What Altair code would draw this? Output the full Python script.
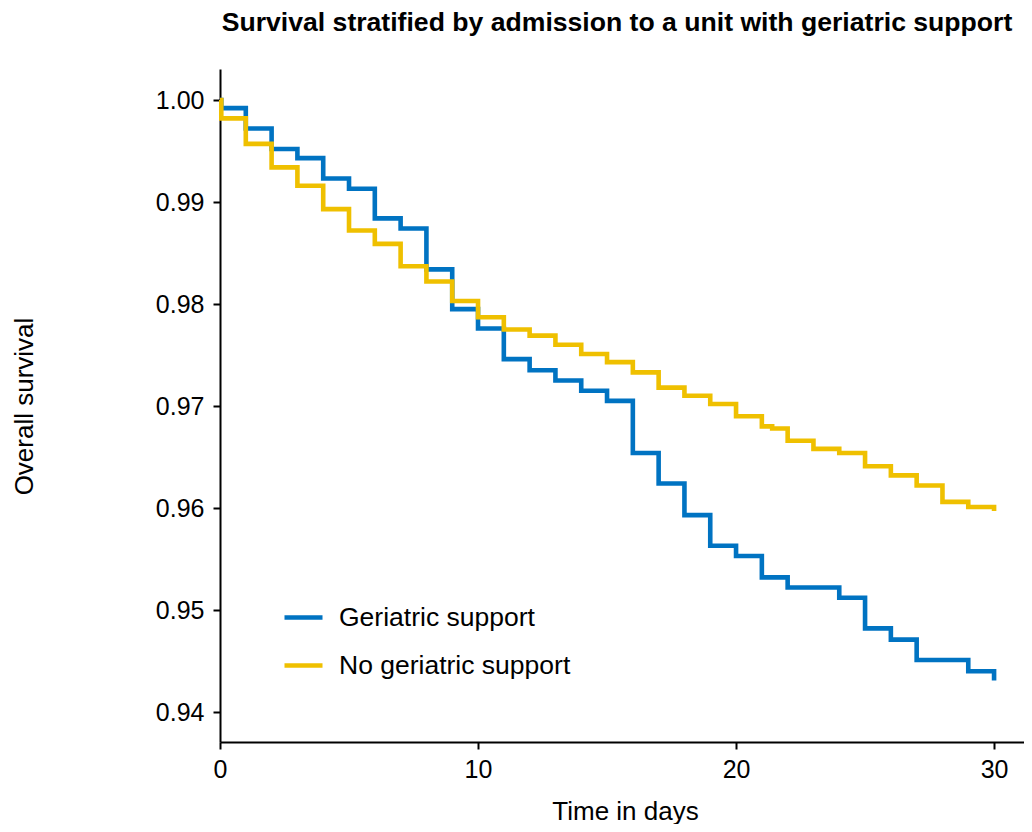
import altair as alt
import pandas as pd

groups = ["Geriatric support", "No geriatric support"]
colors = ["#0073C2", "#EFC000"]

geri_t = [0, 0.05, 1, 2, 3, 4, 5, 6, 7, 8, 9, 10, 11, 12, 13, 14, 15, 16, 17, 18, 19,
          20, 21, 22, 24, 25, 26, 27, 29, 30]
geri_s = [1.0, 0.9992, 0.9972, 0.9952, 0.9943, 0.9923, 0.9913, 0.9884, 0.9874, 0.9834,
          0.9795, 0.9776, 0.9746, 0.9735, 0.9725, 0.9715, 0.9705, 0.9654, 0.9624, 0.9593,
          0.9563, 0.9553, 0.9532, 0.9522, 0.9512, 0.9482, 0.9471, 0.9451, 0.9440, 0.9431]

nogeri_t = [0, 0.05, 1, 2, 3, 4, 5, 6, 7, 8, 9, 10, 11, 12, 13, 14, 15, 16, 17, 18, 19,
            20, 21, 21.4, 22, 23, 24, 25, 26, 27, 28, 29, 30]
nogeri_s = [1.0, 0.9982, 0.9957, 0.9934, 0.9916, 0.9893, 0.9872, 0.9859, 0.9837, 0.9822,
            0.9803, 0.9787, 0.9775, 0.9769, 0.9760, 0.9751, 0.9743, 0.9733, 0.9718, 0.9710,
            0.9702, 0.9690, 0.9680, 0.9678, 0.9666, 0.9658, 0.9654, 0.9641, 0.9632, 0.9622,
            0.9606, 0.9601, 0.9597]

x_ticks = [0, 10, 20, 30]
y_ticks = [0.94, 0.95, 0.96, 0.97, 0.98, 0.99, 1.00]

rows = []
for i, (t, s) in enumerate(zip(geri_t, geri_s)):
    rows.append({"time": t, "surv": s, "group": groups[0], "ord": i})
for i, (t, s) in enumerate(zip(nogeri_t, nogeri_s)):
    rows.append({"time": t, "surv": s, "group": groups[1], "ord": i})
df = pd.DataFrame(rows)

FONT = "Liberation Sans"

chart = alt.Chart(df).mark_line(interpolate="step-after", strokeWidth=4.6).encode(
    x=alt.X("time:Q",
            scale=alt.Scale(domain=[0, 31.16], nice=False, zero=False),
            axis=alt.Axis(values=x_ticks, title="Time in days", format="d",
                          labelFlush=False,
                          titleX=405, titleY=77, titleBaseline="alphabetic",
                          titleFontSize=26, titleFontWeight="normal", labelPadding=8)),
    y=alt.Y("surv:Q",
            scale=alt.Scale(domain=[0.93706, 1.00304], nice=False, zero=False),
            axis=alt.Axis(values=y_ticks, title="Overall survival", format=".2f",
                          labelFlush=False,
                          titleX=-188, titleY=337, titleAngle=-90, titleAlign="center",
                          titleBaseline="alphabetic",
                          titleFontSize=26, titleFontWeight="normal", labelPadding=9)),
    color=alt.Color("group:N",
                    scale=alt.Scale(domain=groups, range=colors),
                    legend=alt.Legend(title=None, orient="none", legendX=62, legendY=527,
                                      symbolType="stroke", symbolSize=1444,
                                      symbolStrokeWidth=4.6, labelFontSize=26.5,
                                      labelOffset=14, rowPadding=13, padding=0,
                                      labelLimit=500,
                                      labelFont=FONT, labelColor="black")),
    order=alt.Order("ord:Q"),
).properties(
    width=804,
    height=673,
    title=alt.TitleParams(
        "Survival stratified by admission to a unit with geriatric support",
        fontSize=26.6, fontWeight="bold", font=FONT, anchor="middle",
        baseline="alphabetic", offset=11, dx=-5, color="black"),
    padding={"left": 212, "top": 61, "right": 0, "bottom": 82},
    autosize=alt.AutoSizeParams(type="none"),
).configure_view(
    stroke=None
).configure_axis(
    grid=False,
    domainColor="black", domainWidth=2,
    tickColor="black", tickWidth=2, tickSize=7,
    labelColor="black", labelFontSize=25, labelFont=FONT,
    titleColor="black", titleFont=FONT,
)

chart.save("out.html", embed_options={"renderer": "svg", "actions": False})
